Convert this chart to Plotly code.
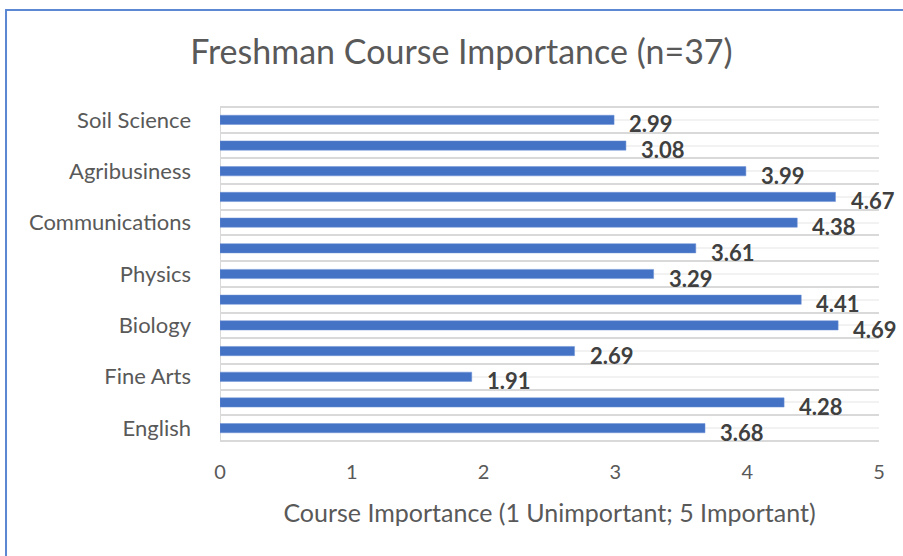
import plotly.graph_objects as go

# Bottom-to-top order as displayed; unlabeled rows have no visible name in the source
course_labels = ["English", "", "Fine Arts", "", "Biology", "", "Physics", "",
                 "Communications", "", "Agribusiness", "", "Soil Science"]
importance = [3.68, 4.28, 1.91, 2.69, 4.69, 4.41, 3.29, 3.61, 4.38, 4.67, 3.99, 3.08, 2.99]
x_ticks = [0, 1, 2, 3, 4, 5]

positions = list(range(len(importance)))

fig = go.Figure(go.Bar(
    x=importance, y=positions, orientation="h",
    marker=dict(color="#4472c4", line=dict(color="#6f93d6", width=0.5)),
    width=0.36,
))

for pos, val in zip(positions, importance):
    fig.add_annotation(x=val, y=pos, xref="x", yref="y", text=f"{val:.2f}",
                       showarrow=False, xanchor="left", yanchor="middle",
                       xshift=13, yshift=-4,
                       font=dict(family="Lato", size=22, color="#404040", weight="bold"))

fig.update_layout(
    width=903, height=556,
    margin=dict(l=220, r=24, t=107, b=115),
    paper_bgcolor="white", plot_bgcolor="white",
    showlegend=False,
    title=dict(text="Freshman Course Importance (n=37)", x=0.511, xanchor="center",
               y=0.906, yanchor="middle",
               font=dict(family="Lato", size=34, color="#595959")),
    xaxis=dict(range=[0, 5], tickvals=x_ticks, ticktext=[str(t) for t in x_ticks],
               showgrid=False, zeroline=False, showline=False,
               ticks="", ticklabelstandoff=17,
               tickfont=dict(family="Lato", size=20, color="#595959"),
               title=dict(text="Course Importance (1 Unimportant; 5 Important)",
                          font=dict(family="Lato", size=25, color="#595959"),
                          standoff=22)),
    yaxis=dict(range=[-0.5, len(importance) - 0.5], tickmode="array",
               tickvals=positions, ticktext=course_labels,
               showgrid=True, gridcolor="#f2f2f2", gridwidth=2,
               zeroline=False, showline=False, ticks="", ticklabelstandoff=28,
               tickfont=dict(family="Lato", size=22, color="#595959"),
               minor=dict(tickmode="linear", tick0=0.5, dtick=1,
                          showgrid=True, gridcolor="#d9d9d9", gridwidth=2)),
)

# axis frame lines at x=0 and bottom/top boundary
fig.add_shape(type="line", xref="x", yref="paper", x0=0, x1=0, y0=0, y1=1,
              line=dict(color="#d9d9d9", width=2), layer="below")
fig.add_shape(type="line", xref="paper", yref="paper", x0=0, x1=1, y0=0, y1=0,
              line=dict(color="#d9d9d9", width=2), layer="below")
fig.add_shape(type="line", xref="paper", yref="paper", x0=0, x1=1, y0=1, y1=1,
              line=dict(color="#d9d9d9", width=2), layer="below")

# outer blue frame
fig.add_shape(type="rect", xref="paper", yref="paper",
              x0=-0.3247, x1=1.2, y0=-0.5, y1=1.2904,
              line=dict(color="#5b87d3", width=2))

fig.write_html("out.html", config={"displayModeBar": False},
               post_script="document.body.style.margin='0';document.body.style.overflow='hidden';")
